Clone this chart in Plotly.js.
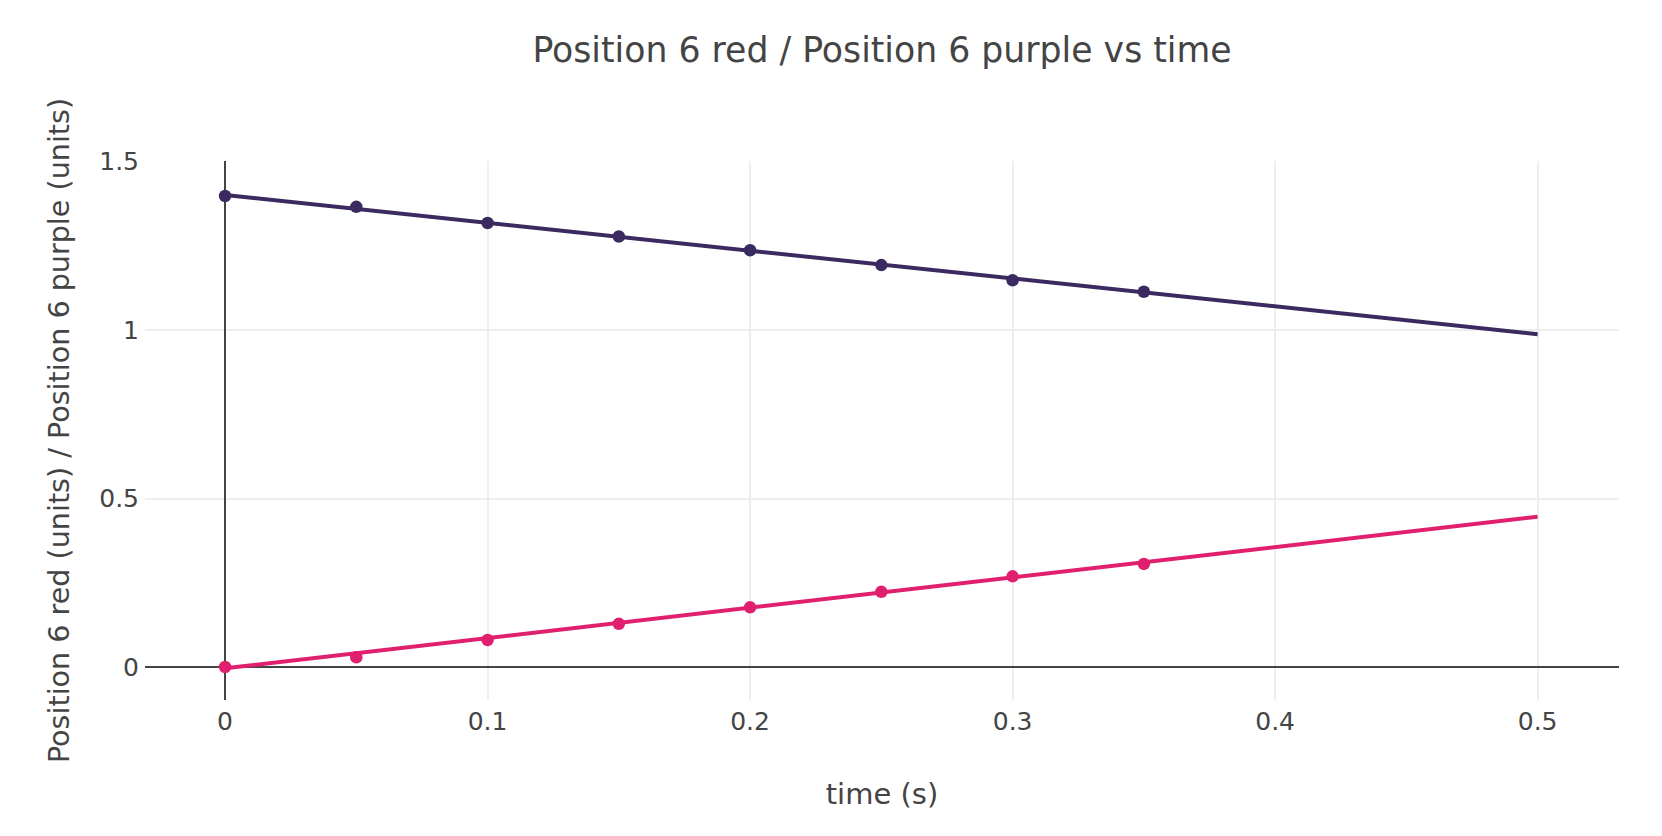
<!DOCTYPE html>
<html>
<head>
<meta charset="utf-8">
<script src="https://cdn.plot.ly/plotly-3.0.1.min.js"></script>
<style>html,body{margin:0;padding:0;background:#fff;}#chart{width:1662px;height:836px;}</style>
</head>
<body>
<div id="chart"></div>
<script>
const timePoints = [0, 0.05, 0.1, 0.15, 0.2, 0.25, 0.3, 0.35];
const purpleValues = [1.398, 1.366, 1.318, 1.278, 1.237, 1.193, 1.148, 1.114];
const redValues = [0.0, 0.029, 0.080, 0.128, 0.177, 0.223, 0.269, 0.306];
const fitTime = [0, 0.5];
const purpleFit = [1.401, 0.988];
const redFit = [-0.004, 0.446];
const xTickVals = [0, 0.1, 0.2, 0.3, 0.4, 0.5];
const xTickText = ['0', '0.1', '0.2', '0.3', '0.4', '0.5'];
const yTickVals = [0, 0.5, 1, 1.5];
const yTickText = ['0', '0.5', '1', '1.5'];

const purpleColor = '#3b2a5f';
const redColor = '#e0206e';

const traces = [
  {x: fitTime, y: purpleFit, mode: 'lines', line: {color: purpleColor, width: 4}, hoverinfo: 'skip'},
  {x: timePoints, y: purpleValues, mode: 'markers', marker: {color: purpleColor, size: 12.5}},
  {x: fitTime, y: redFit, mode: 'lines', line: {color: redColor, width: 4}, hoverinfo: 'skip'},
  {x: timePoints, y: redValues, mode: 'markers', marker: {color: redColor, size: 12.5}}
];

const layout = {
  width: 1662, height: 836,
  showlegend: false,
  paper_bgcolor: '#fff', plot_bgcolor: '#fff',
  font: {family: '"DejaVu Sans", sans-serif', color: '#444', size: 25},
  margin: {l: 145, r: 43, t: 161, b: 136},
  title: {text: 'Position 6 red / Position 6 purple vs time', font: {size: 34.7, color: '#444'}, xref: 'paper', x: 0.5, xanchor: 'center', y: 0.94, yanchor: 'middle'},
  xaxis: {
    title: {text: 'time (s)', font: {size: 29}, standoff: 48},
    range: [-0.0305, 0.531],
    tickvals: xTickVals,
    ticktext: xTickText,
    gridcolor: '#eee', gridwidth: 2,
    zeroline: true, zerolinecolor: '#444', zerolinewidth: 2,
    showline: false, ticks: '', tickfont: {size: 25}, ticklabelstandoff: 4
  },
  yaxis: {
    title: {text: 'Position 6 red (units) / Position 6 purple (units)', font: {size: 28.6}, standoff: 21},
    range: [-0.098, 1.502],
    tickvals: yTickVals,
    ticktext: yTickText,
    gridcolor: '#eee', gridwidth: 2,
    zeroline: true, zerolinecolor: '#444', zerolinewidth: 2,
    showline: false, ticks: '', tickfont: {size: 25}, ticklabelstandoff: 5
  }
};

Plotly.newPlot('chart', traces, layout, {displayModeBar: false, staticPlot: true});
</script>
</body>
</html>
